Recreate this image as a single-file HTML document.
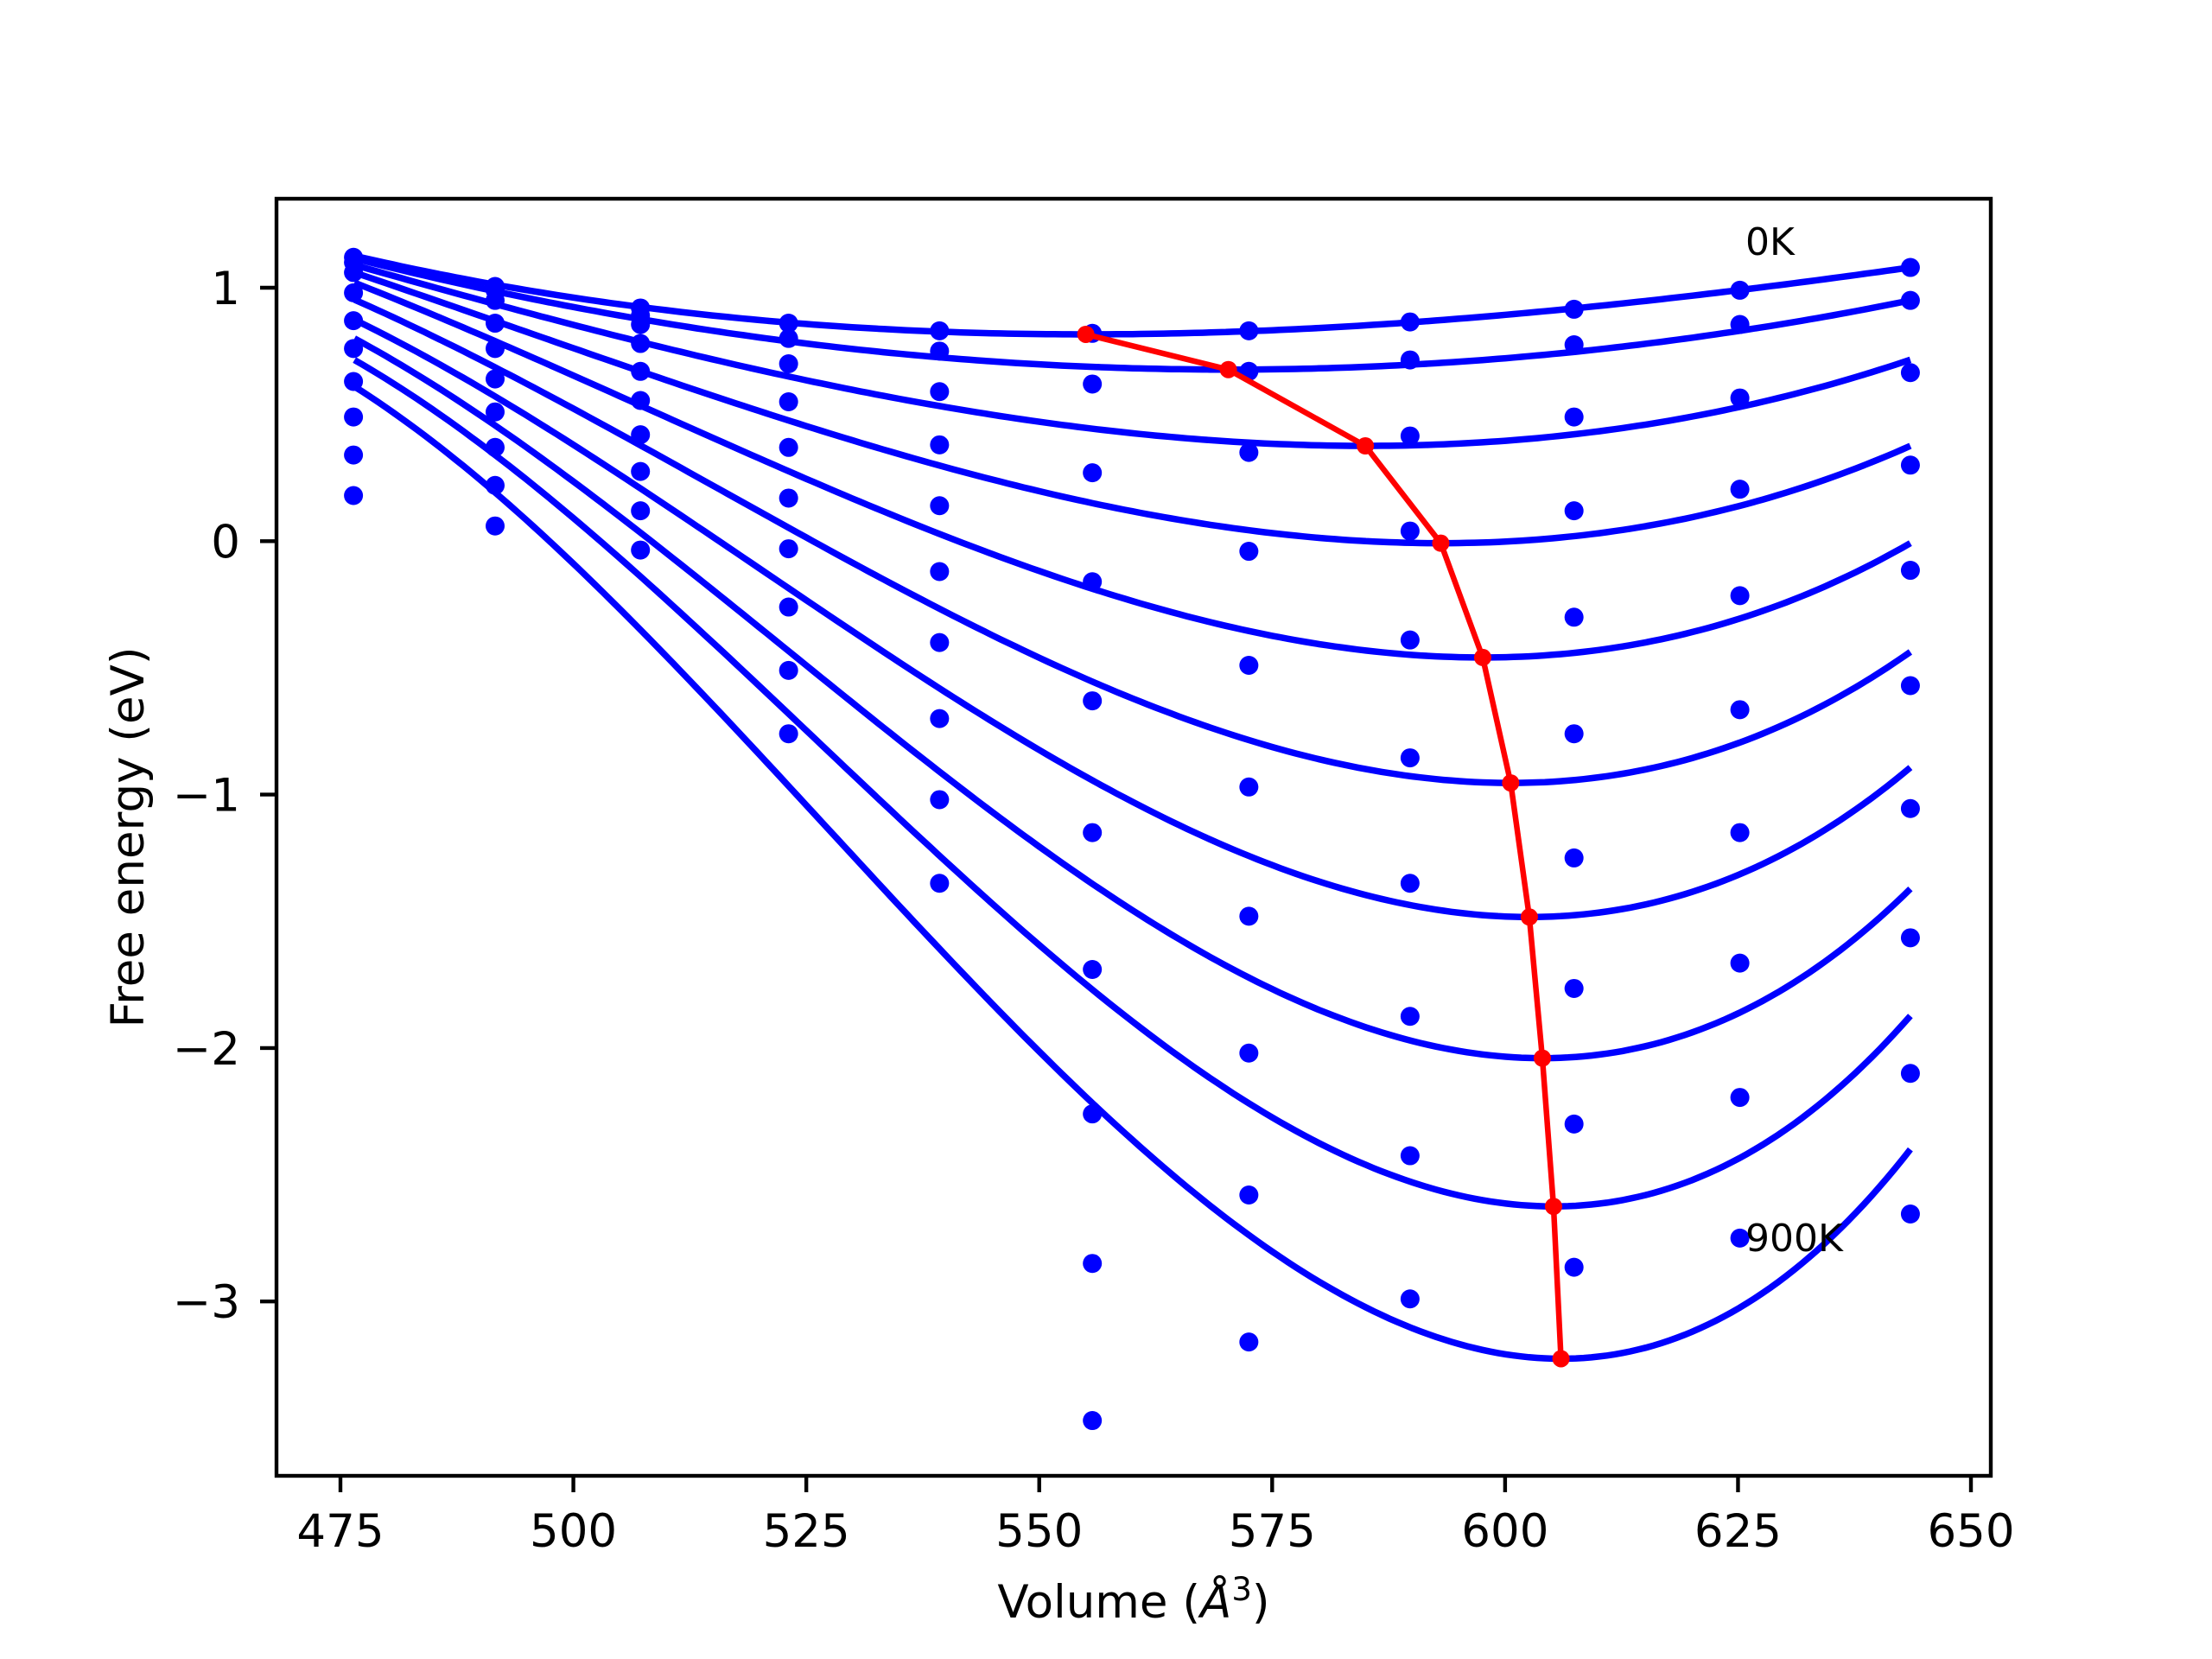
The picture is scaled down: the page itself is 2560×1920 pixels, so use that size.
<!DOCTYPE html>
<html><head><meta charset="utf-8"><style>
html,body{margin:0;padding:0;background:#fff}
svg{display:block}
text{font-family:"DejaVu Sans","Liberation Sans",sans-serif;fill:#000}
</style></head><body>
<svg id="chart" width="2560" height="1920" viewBox="0 0 2560 1920" xmlns="http://www.w3.org/2000/svg">
<rect width="2560" height="1920" fill="#fff"/>
<g id="curves"></g>
<g id="dots"></g>
<g id="minline"></g>
<rect x="320" y="230" width="1984" height="1478" fill="none" stroke="#000" stroke-width="4.4"/>
<g id="xticks"></g>
<g id="yticks"></g>
<text x="1312" y="1872" font-size="53" text-anchor="middle">Volume (<tspan font-style="italic">Å</tspan><tspan font-size="37" dy="-20">3</tspan><tspan dy="20">)</tspan></text>
<text transform="translate(166,969) rotate(-90)" font-size="53" text-anchor="middle">Free energy (eV)</text>
<text x="2020" y="295" font-size="44">0K</text>
<text x="2020" y="1448" font-size="44">900K</text>
</svg>
<script>
const volumes = [476.4, 491.6, 507.2, 523.1, 539.3, 555.7, 572.5, 589.8, 607.4, 625.2, 643.5];
// energies per temperature (0K..900K), one value per volume
const e0K   = [1.12, 1.005, 0.92, 0.86, 0.83, 0.82, 0.83, 0.865, 0.915, 0.99, 1.08];
const e100K = [1.10, 0.99, 0.89, 0.80, 0.75, 0.62, 0.67, 0.715, 0.775, 0.855, 0.95];
const e200K = [1.06, 0.95, 0.855, 0.70, 0.59, 0.27, 0.35, 0.415, 0.49, 0.565, 0.665];
const e300K = [0.98, 0.86, 0.78, 0.55, 0.38, -0.16, -0.04, 0.04, 0.12, 0.205, 0.30];
const e400K = [0.87, 0.76, 0.67, 0.37, 0.14, -0.63, -0.49, -0.39, -0.30, -0.215, -0.115];
const e500K = [0.76, 0.64, 0.555, 0.17, -0.12, -1.15, -0.97, -0.855, -0.76, -0.665, -0.57];
const e600K = [0.63, 0.51, 0.42, -0.03, -0.40, -1.69, -1.48, -1.35, -1.25, -1.15, -1.055];
const e700K = [0.49, 0.37, 0.275, -0.26, -0.70, -2.26, -2.02, -1.875, -1.765, -1.665, -1.565];
const e800K = [0.34, 0.22, 0.12, -0.51, -1.02, -2.85, -2.58, -2.425, -2.30, -2.195, -2.10];
const e900K = [0.18, 0.06, -0.035, -0.76, -1.35, -3.47, -3.16, -2.99, -2.865, -2.75, -2.655];
const series = [e0K, e100K, e200K, e300K, e400K, e500K, e600K, e700K, e800K, e900K];
// fitted curves: minimum volume, minimum energy, left-end energy, right-end energy
const fitV0 = [555.0, 570.3, 585.0, 593.1, 597.6, 600.6, 602.6, 604.0, 605.2, 606.0];
const fitE0 = [0.816, 0.677, 0.376, -0.008, -0.459, -0.954, -1.483, -2.04, -2.625, -3.226];
const fitEL = [1.126, 1.115, 1.09, 1.06, 1.02, 0.953, 0.874, 0.80, 0.715, 0.61];
const fitER = [1.08, 0.95, 0.716, 0.376, -0.008, -0.437, -0.893, -1.372, -1.873, -2.40];
const fitVL = 476.5, fitVR = 643.5;
const xTicks = [475, 500, 525, 550, 575, 600, 625, 650];
const yTicks = [1, 0, -1, -2, -3];
const yTickLabels = ["1", "0", "\u22121", "\u22122", "\u22123"];

const NS = "http://www.w3.org/2000/svg";
const X = v => 394 + (v - 475) * 10.783;
const Y = e => 626.3 - e * 293.3;
function mk(tag, attrs, parent) {
  const el = document.createElementNS(NS, tag);
  for (const k in attrs) el.setAttribute(k, attrs[k]);
  parent.appendChild(el);
  return el;
}
const gC = document.getElementById('curves');
for (let i = 0; i < fitV0.length; i++) {
  const v0 = fitV0[i], e0 = fitE0[i];
  const dL = fitVL - v0, dR = fitVR - v0;
  const yL = fitEL[i] - e0, yR = fitER[i] - e0;
  // solve a d^2 + b d^3 = y at both ends
  const det = dL*dL*dR*dR*dR - dR*dR*dL*dL*dL;
  const a = (yL*dR*dR*dR - yR*dL*dL*dL) / det;
  const b = (dL*dL*yR - dR*dR*yL) / det;
  let d = '';
  for (let k = 0; k <= 200; k++) {
    const v = fitVL + (fitVR - fitVL) * k / 200;
    const t = v - v0;
    const e = e0 + a*t*t + b*t*t*t;
    d += (k ? 'L' : 'M') + X(v).toFixed(1) + ',' + Y(e).toFixed(1);
  }
  const p = mk('path', {d: d, fill: 'none', stroke: '#0000ff', 'stroke-width': 7.5}, gC);
  
  
}
const gD = document.getElementById('dots');
series.forEach((s, i) => {
  s.forEach((e, j) => {
    const c = mk('circle', {cx: X(volumes[j]), cy: Y(e), r: 11, fill: '#0000ff'}, gD);
    
    
  });
});
const gM = document.getElementById('minline');
let md = '';
fitV0.forEach((v, i) => { md += (i ? 'L' : 'M') + X(v) + ',' + Y(fitE0[i]); });
const ml = mk('path', {d: md, fill: 'none', stroke: '#ff0000', 'stroke-width': 6.5}, gM);


fitV0.forEach((v, i) => {
  const c = mk('circle', {cx: X(v), cy: Y(fitE0[i]), r: 10, fill: '#ff0000'}, gM);
  
  
});
const gX = document.getElementById('xticks');
xTicks.forEach(t => {
  const l = mk('line', {x1: X(t), x2: X(t), y1: 1708, y2: 1727, stroke: '#000', 'stroke-width': 4.4}, gX);
  
  
  const tx = mk('text', {x: X(t), y: 1790, 'font-size': 53, 'text-anchor': 'middle'}, gX);
  tx.textContent = String(t);
  
  
});
const gY = document.getElementById('yticks');
yTicks.forEach((t, i) => {
  const l = mk('line', {x1: 301, x2: 320, y1: Y(t), y2: Y(t), stroke: '#000', 'stroke-width': 4.4}, gY);
  
  
  const tx = mk('text', {x: 278, y: Y(t) + 19, 'font-size': 53, 'text-anchor': 'end'}, gY);
  tx.textContent = yTickLabels[i];
  
  
});
</script>
</body></html>
